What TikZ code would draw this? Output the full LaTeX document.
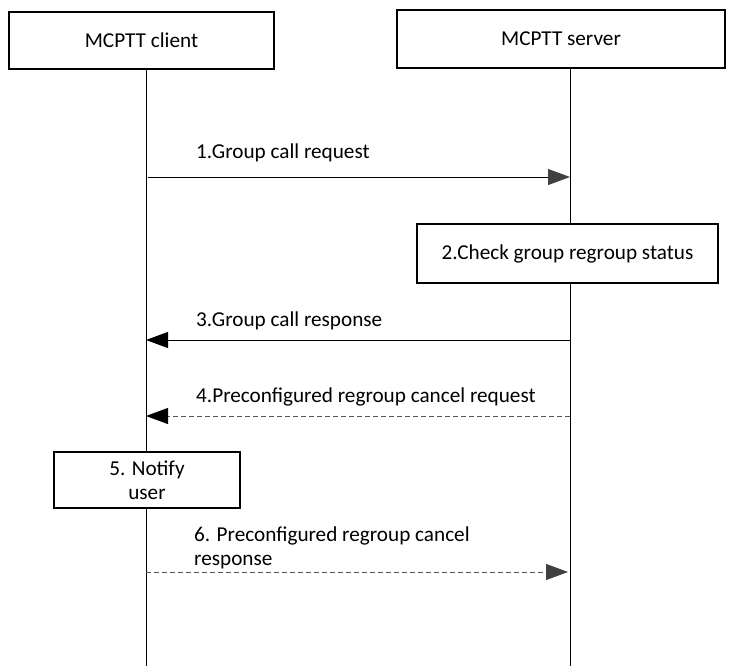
\documentclass[tikz,border=0pt]{standalone}
\usepackage{fontspec}
\setmainfont{Carlito}
\usetikzlibrary{arrows.meta}
\definecolor{headgray}{HTML}{404040}
\definecolor{dashgray}{HTML}{555555}
\begin{document}
\begin{tikzpicture}[x=1pt,y=-1pt,
  every node/.style={font=\fontsize{21.2}{25}\selectfont, inner sep=0pt},
  actor/.style={draw, line width=1.5pt, fill=white},
  procbox/.style={draw, line width=1.3pt, fill=white},
  lifeline/.style={line width=0.9pt},
  msg/.style={line width=0.9pt},
  dmsg/.style={line width=0.9pt, dashgray, dash pattern=on 5pt off 3pt},
  lbl/.style={anchor=west}
]
\useasboundingbox (0,0) rectangle (730,666);
% actor boxes
\node[actor, minimum width=265pt, minimum height=57pt] (client) at (141.5,40.5) {MCPTT client};
\node[actor, minimum width=328pt, minimum height=58pt] (server) at (561,39) {MCPTT server};
% lifeline ends
\coordinate (cend) at (146,666);
\coordinate (send) at (570,666);
\draw[lifeline] (client.south -| cend) -- (cend);
\draw[lifeline] (server.south -| send) -- (send);
% process boxes
\node[procbox, minimum width=301pt, minimum height=59pt] (check) at (567.5,253.5) {2.Check group regroup status};
\node[procbox, minimum width=186pt, minimum height=56pt, align=center] (notify) at (147,480) {5. Notify\\[-1pt]user};
% message anchor points
\coordinate (c1) at (148,177); \coordinate (s1) at (570,177);
\coordinate (c3) at (146,340); \coordinate (s3) at (570,340);
\coordinate (c4) at (146,416); \coordinate (s4) at (570,416);
\coordinate (c6) at (146,572); \coordinate (s6) at (568,572);
% messages
\draw[msg, -{Triangle[length=22pt,width=16pt,color=headgray,fill=headgray]}] (c1) -- (s1);
\node[lbl] (l1) at (196,153) {1.Group call request};
\draw[msg, -{Triangle[length=22pt,width=16pt]}] (s3) -- (c3);
\node[lbl] (l3) at (196,321) {3.Group call response};
\draw[dmsg, -{Triangle[length=22pt,width=16pt,color=black,fill=black]}] (s4) -- (c4);
\node[lbl] (l4) at (196,397) {4.Preconfigured regroup cancel request};
\draw[dmsg, -{Triangle[length=22pt,width=16pt,color=headgray,fill=headgray]}] (c6) -- (s6);
\node[lbl, align=left] (l6) at (194,548) {6. Preconfigured regroup cancel\\[-1pt]response};
\end{tikzpicture}
\end{document}
